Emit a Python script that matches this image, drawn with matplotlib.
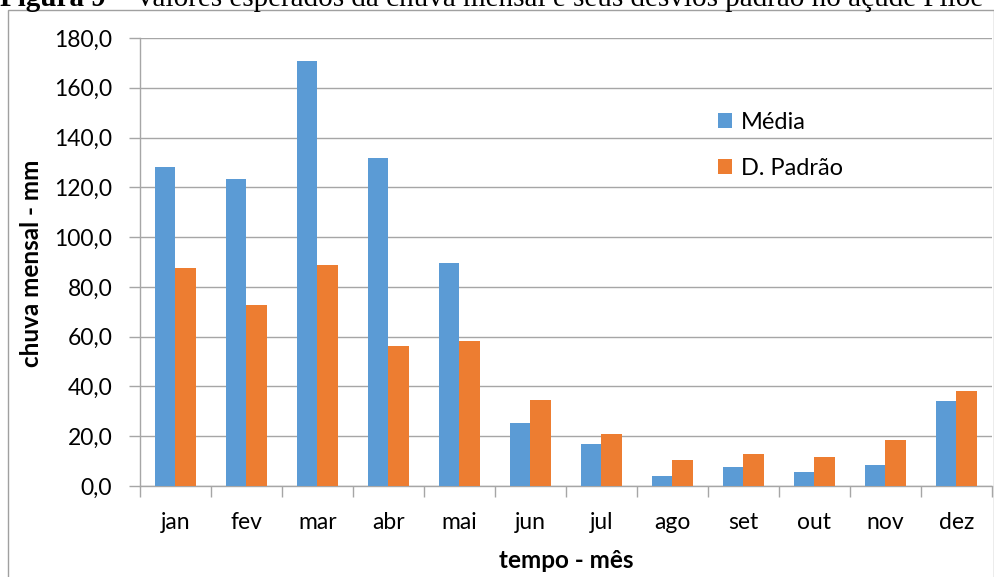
import numpy as np
import matplotlib.pyplot as plt
from matplotlib.patches import Rectangle
from matplotlib.ticker import FuncFormatter, MultipleLocator

meses = ['jan', 'fev', 'mar', 'abr', 'mai', 'jun', 'jul', 'ago', 'set', 'out', 'nov', 'dez']
media = [128.1, 123.3, 170.7, 131.7, 89.4, 25.5, 16.8, 3.9, 7.6, 5.5, 8.3, 34.3]
desvio = [87.5, 72.8, 88.8, 56.3, 58.4, 34.6, 20.8, 10.6, 13.0, 11.5, 18.6, 38.2]

AZUL = '#5b9bd5'
LARANJA = '#ed7d31'
CINZA = '#a6a6a6'

W, H = 995, 577
fig = plt.figure(figsize=(W / 100, H / 100), dpi=100)
plt.rcParams['font.family'] = ['Lato', 'DejaVu Sans']

# moldura do grafico (cortada embaixo)
fig.patches.append(Rectangle((8 / W, -0.1), (994 - 8) / W, 1.1 - 9.5 / H,
                             transform=fig.transFigure, fill=False,
                             edgecolor='#a0a0a0', linewidth=1.0))

ax = fig.add_axes([140 / W, 1 - 486 / H, (992 - 140) / W, (486 - 38) / H])

x = np.arange(len(meses))
larg = 0.286
ax.bar(x - larg / 2, media, larg, color=AZUL, label='Média', zorder=3)
ax.bar(x + larg / 2, desvio, larg, color=LARANJA, label='D. Padrão', zorder=3)

ax.set_xlim(-0.5, len(meses) - 0.5)
ax.set_ylim(0, 180)
ax.yaxis.set_major_locator(MultipleLocator(20))
ax.yaxis.set_major_formatter(FuncFormatter(lambda v, p: f'{v:.1f}'.replace('.', ',')))
ax.yaxis.grid(True, color=CINZA, linewidth=1.0, zorder=0)

ax.set_xticks(x)
ax.set_xticklabels(meses)
ax.set_xticks(np.arange(-0.5, len(meses)), minor=True)
ax.tick_params(axis='x', which='major', length=0, pad=19, labelsize=16.5)
ax.tick_params(axis='x', which='minor', length=8, color=CINZA, width=1)
ax.tick_params(axis='y', length=8, color=CINZA, width=1, pad=12, labelsize=16.5)

for lado in ['top', 'right']:
    ax.spines[lado].set_visible(False)
for lado in ['left', 'bottom']:
    ax.spines[lado].set_color(CINZA)
    ax.spines[lado].set_linewidth(1.0)

ax.set_ylabel('chuva mensal - mm', fontsize=17.5, fontweight='bold')
ax.yaxis.set_label_coords((31 - 140) / (992 - 140), (486 - 263) / (486 - 38))
ax.set_xlabel('tempo - mês', fontsize=17.5, fontweight='bold')
ax.xaxis.set_label_coords((566 - 140) / (992 - 140), (486 - 560) / (486 - 38))
ax.xaxis.label.set_verticalalignment('center')
ax.yaxis.label.set_verticalalignment('center')

ax.legend(loc='upper left', bbox_to_anchor=(718 / W, 1 - 112 / H),
          bbox_transform=fig.transFigure, frameon=False, fontsize=17,
          handlelength=0.6, handleheight=0.6, handletextpad=0.38,
          labelspacing=1.06, borderpad=0, borderaxespad=0)

# legenda da figura no topo, parcialmente cortada
t1 = fig.text(0, 1 - 5.5 / H, 'Figura 9', fontsize=21, fontweight='bold',
              family='Liberation Serif', va='baseline')
fig.canvas.draw()
bb = t1.get_window_extent()
fig.text(bb.x1 / W, 1 - 5.5 / H, ' – Valores esperados da chuva mensal e seus desvios padrão no açude Piloe',
         fontsize=21, family='Liberation Serif', va='baseline')

fig.savefig('out.png', dpi=100)
